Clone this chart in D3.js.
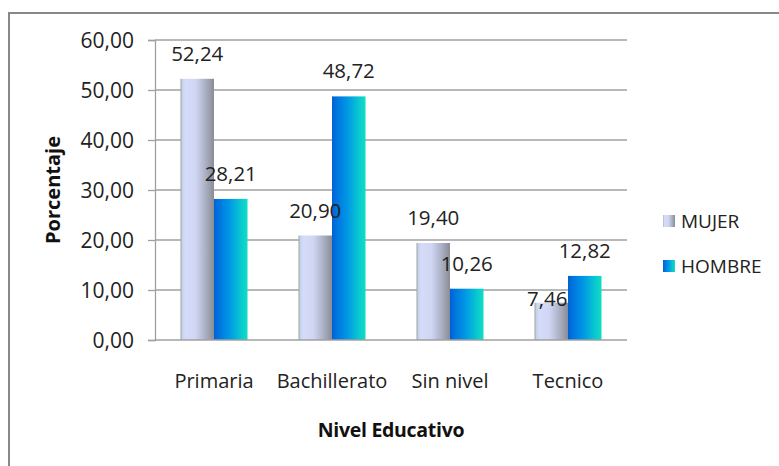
<!DOCTYPE html>
<html><head><meta charset="utf-8">
<script src="https://cdn.jsdelivr.net/npm/d3@7"></script>
<style>
html,body{margin:0;padding:0;background:#fff;}
svg{display:block;font-family:"Open Sans",sans-serif;}
</style></head>
<body>
<svg id="chart" width="779" height="466"></svg>
<script>
const categories = ["Primaria", "Bachillerato", "Sin nivel", "Tecnico"];
const seriesNames = ["MUJER", "HOMBRE"];
const mujer = [52.24, 20.90, 19.40, 7.46];
const hombre = [28.21, 48.72, 10.26, 12.82];
const yTicks = [0, 10, 20, 30, 40, 50, 60];
const yTitle = "Porcentaje";
const xTitle = "Nivel Educativo";

const svg = d3.select("#chart");
const m = {left: 155, right: 152, top: 40, bottom: 126};
const W = 779, H = 466;
const pw = W - m.left - m.right, ph = H - m.top - m.bottom;

const defs = svg.append("defs");
function grad(id, stops){
  const g = defs.append("linearGradient").attr("id", id).attr("x1","0%").attr("x2","100%").attr("y1","0%").attr("y2","0%");
  stops.forEach(s => g.append("stop").attr("offset", s[0]).attr("stop-color", s[1]));
}
grad("gM", [["0%","#9aa89a"],["6%","#c8d2ee"],["15%","#d4dcfa"],["45%","#d0d6f2"],["75%","#aab0c4"],["100%","#8a8c94"]]);
grad("gH", [["0%","#0060d4"],["10%","#0070dc"],["45%","#0096e6"],["80%","#08c8d0"],["100%","#12dcc4"]]);
const fills = ["url(#gM)", "url(#gH)"];

// outer border
svg.append("rect").attr("x", 9).attr("y", 13).attr("width", 800).attr("height", 500)
  .attr("fill", "none").attr("stroke", "#888").attr("stroke-width", 2);

const g = svg.append("g").attr("transform", `translate(${m.left},${m.top})`);

const x0 = d3.scaleBand().domain(categories).range([0, pw]).paddingInner(0.432).paddingOuter(0.216);
const x1 = d3.scaleBand().domain(seriesNames).range([0, x0.bandwidth()]).padding(0);
const y = d3.scaleLinear().domain([0, 60]).range([ph, 0]);

// gridlines
g.append("g").selectAll("line").data(yTicks.filter(d => d > 0)).join("line")
  .attr("x1", 0).attr("x2", pw).attr("y1", d => y(d)).attr("y2", d => y(d))
  .attr("stroke", "#a0a0a0").attr("stroke-width", 1.3);

// y axis
const yAxis = g.append("g").call(d3.axisLeft(y).tickValues(yTicks).tickSize(7).tickPadding(14)
  .tickFormat(d => d3.format(".2f")(d).replace(".", ",")));
yAxis.select(".domain").attr("stroke", "#a0a0a0").attr("stroke-width", 1.3);
yAxis.selectAll(".tick line").attr("stroke", "#a0a0a0").attr("stroke-width", 1.3);
yAxis.selectAll("text").attr("font-size", 21).attr("fill", "#222").attr("font-family", "Open Sans").attr("dy", "0.36em");

// bars
const data = categories.map((c, i) => ({cat: c, vals: [mujer[i], hombre[i]]}));
const labelNudge = [[[0,0],[0,0]],[[0,0],[0,0]],[[0,0],[0,0]],[[-4,21],[0,0]]];
const grp = g.append("g").selectAll("g").data(data).join("g")
  .attr("transform", d => `translate(${x0(d.cat)},0)`);
grp.selectAll("rect").data(d => d.vals.map((v, j) => ({s: seriesNames[j], v, j}))).join("rect")
  .attr("x", d => x1(d.s)).attr("width", x1.bandwidth())
  .attr("y", d => y(d.v)).attr("height", d => ph - y(d.v))
  .attr("fill", d => fills[d.j]);
grp.each(function(d, i){
  d3.select(this).selectAll("text.val").data(d.vals.map((v, j) => ({s: seriesNames[j], v, j}))).join("text")
    .attr("class", "val")
    .attr("x", e => x1(e.s) + x1.bandwidth() / 2 + labelNudge[i][e.j][0])
    .attr("y", e => y(e.v) - 18 + labelNudge[i][e.j][1])
    .attr("text-anchor", "middle").attr("font-size", 20.5).attr("fill", "#222")
    .text(e => d3.format(".2f")(e.v).replace(".", ","));
});

// x axis line
g.append("line").attr("x1", 0).attr("x2", pw).attr("y1", ph).attr("y2", ph)
  .attr("stroke", "#a0a0a0").attr("stroke-width", 1.3);
// category labels
g.append("g").selectAll("text").data(categories).join("text")
  .attr("x", d => x0(d) + x0.bandwidth() / 2).attr("y", ph + 48)
  .attr("text-anchor", "middle").attr("font-size", 20).attr("fill", "#222").text(d => d);

// axis titles
svg.append("text").attr("x", m.left + pw / 2).attr("y", 437).attr("text-anchor", "middle")
  .attr("font-size", 19.5).attr("font-weight", "bold").attr("fill", "#111").attr("letter-spacing", "-0.3").text(xTitle);
svg.append("text").attr("transform", `translate(60,${m.top + ph / 2}) rotate(-90)`).attr("text-anchor", "middle")
  .attr("font-size", 20).attr("font-weight", "bold").attr("fill", "#111").text(yTitle);

// legend
const leg = svg.append("g").selectAll("g").data(seriesNames).join("g")
  .attr("transform", (d, i) => `translate(663,${215 + i * 45})`);
leg.append("rect").attr("width", 12).attr("height", 12).attr("fill", (d, i) => fills[i]);
leg.append("text").attr("x", 18).attr("y", 13).attr("font-size", 19).attr("fill", "#222").text(d => d);
</script>
</body></html>
